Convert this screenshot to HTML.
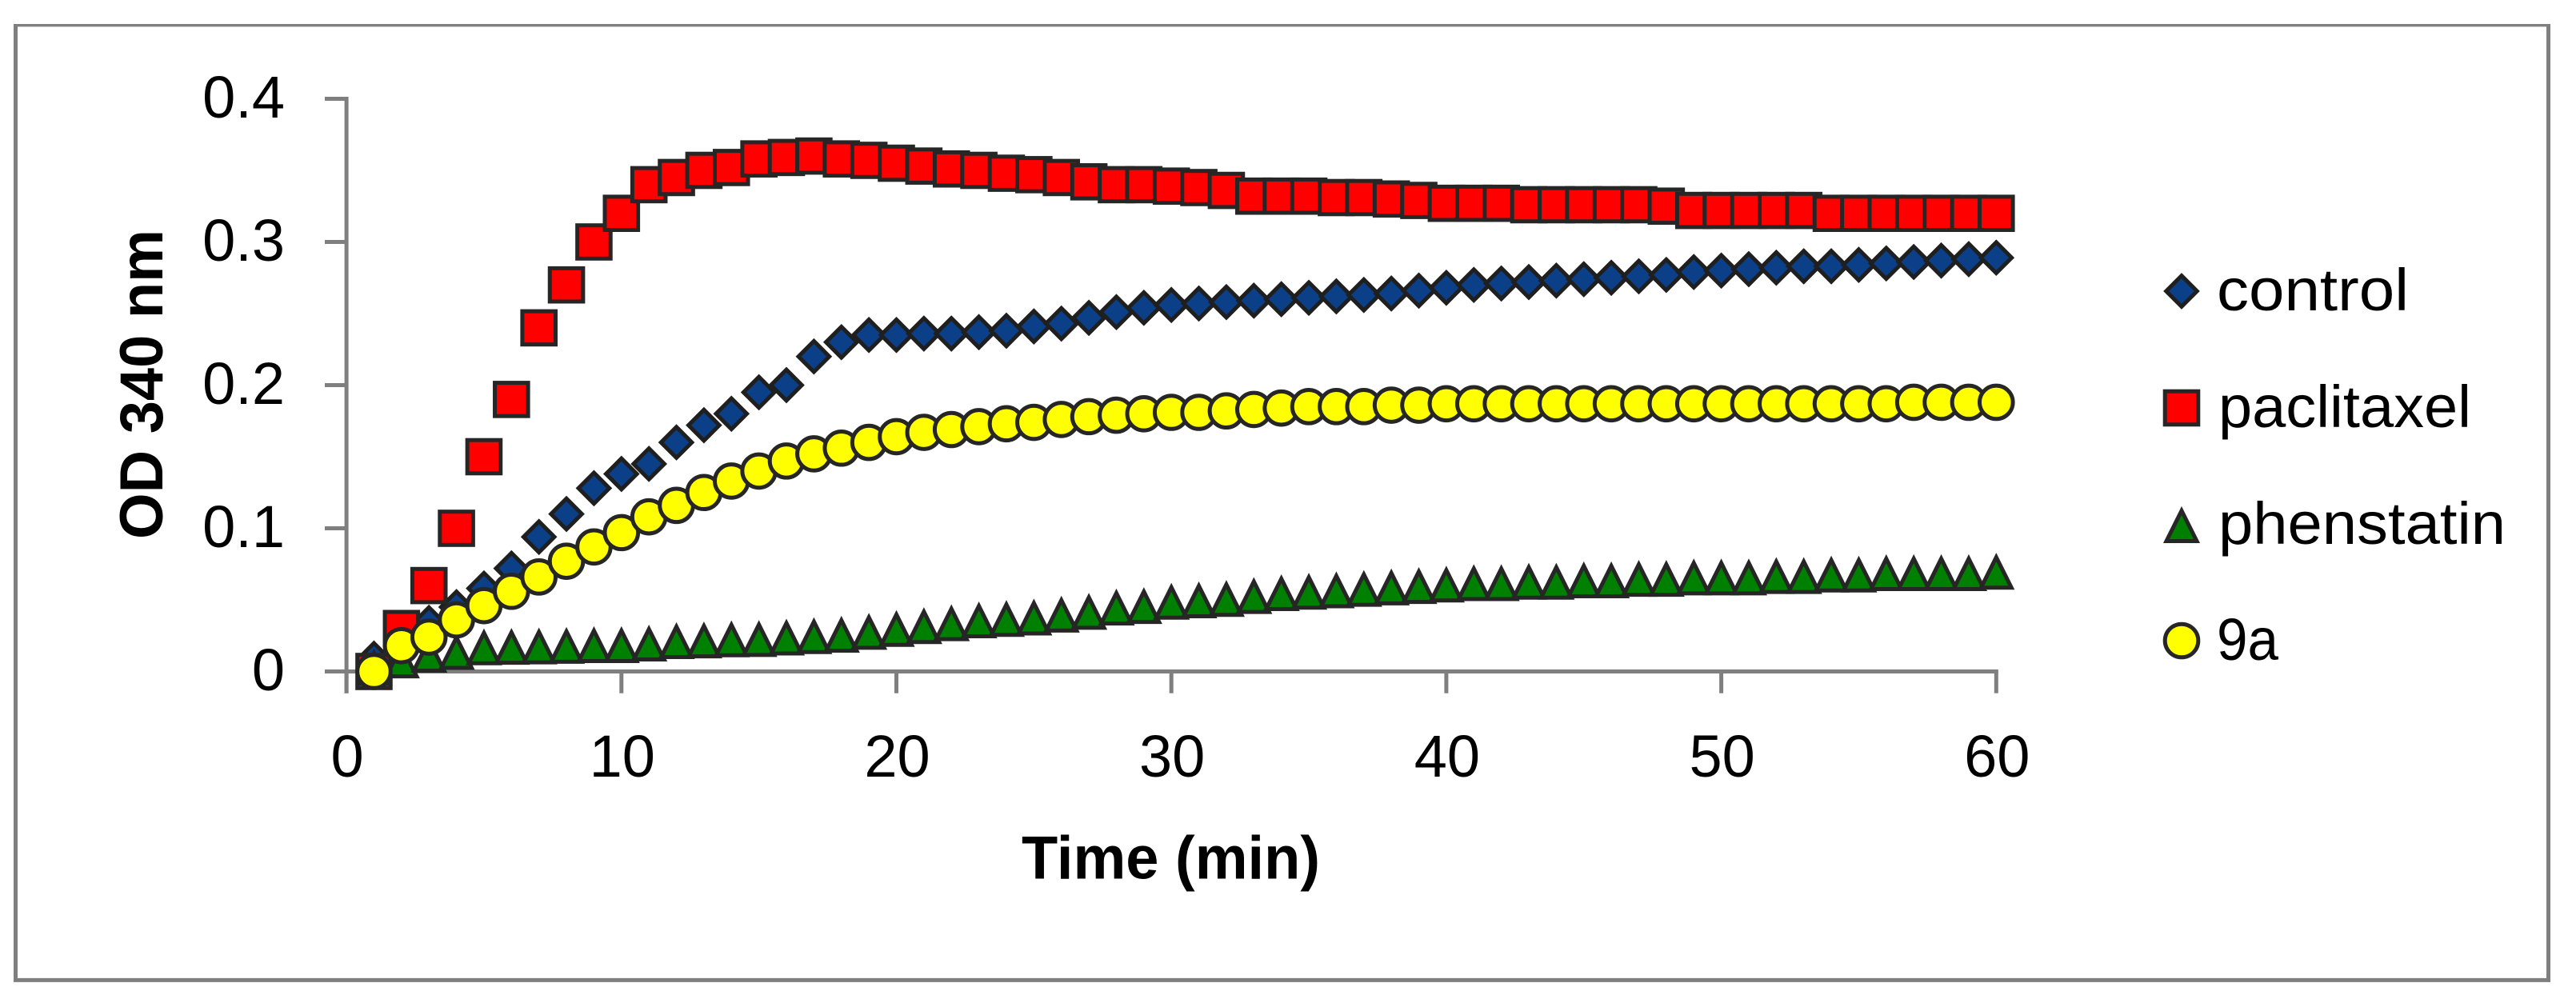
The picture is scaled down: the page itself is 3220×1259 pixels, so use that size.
<!DOCTYPE html>
<html lang="en">
<head>
<meta charset="utf-8">
<title>OD 340 nm over time</title>
<style>
html,body{margin:0;padding:0;background:#fff;width:3220px;height:1259px;overflow:hidden}
svg{display:block}
text{font-family:"Liberation Sans",sans-serif;fill:#000}
</style>
</head>
<body>
<svg id="chart" xmlns="http://www.w3.org/2000/svg" width="3220" height="1259" viewBox="0 0 3220 1259">
  <rect x="0" y="0" width="3220" height="1259" fill="#ffffff"/>
  <path d="M17 31.7H3188" stroke="#7f7f7f" stroke-width="3.4" fill="none"/>
  <path d="M19.5 30V1225.4H3185.5V30" stroke="#7f7f7f" stroke-width="5" fill="none"/>
  <g id="axes"></g>
  <g id="marks"></g>
  <text transform="translate(203,674) rotate(-90)" font-size="76" font-weight="bold" textLength="387" lengthAdjust="spacingAndGlyphs">OD 340 nm</text>
  <text x="1277" y="1098.7" font-size="76" font-weight="bold" textLength="373" lengthAdjust="spacingAndGlyphs">Time (min)</text>
  <g>
    <g>
      <path d="M2727 344.7L2746.3 364L2727 383.3L2707.7 364Z" fill="#0b3f88" stroke="#1f1f1f" stroke-width="5"/>
      <text x="2771" y="388" font-size="74" textLength="240" lengthAdjust="spacingAndGlyphs">control</text>
    </g>
    <g>
      <rect x="2706.2" y="489.2" width="41.6" height="41.6" fill="#ff0000" stroke="#262626" stroke-width="5"/>
      <text x="2773" y="534" font-size="74" textLength="316" lengthAdjust="spacingAndGlyphs">paclitaxel</text>
    </g>
    <g>
      <path d="M2727 638.5L2746 676.5H2708Z" fill="#008000" stroke="#262626" stroke-width="5"/>
      <text x="2773" y="680" font-size="74" textLength="359" lengthAdjust="spacingAndGlyphs">phenstatin</text>
    </g>
    <g>
      <circle cx="2727" cy="801" r="20.8" fill="#ffff00" stroke="#262626" stroke-width="5"/>
      <text x="2771" y="825" font-size="74" textLength="77" lengthAdjust="spacingAndGlyphs">9a</text>
    </g>
  </g>
</svg>
<script>
const minutes = [1,2,3,4,5,6,7,8,9,10,11,12,13,14,15,16,17,18,19,20,21,22,23,24,25,26,27,28,29,30,31,32,33,34,35,36,37,38,39,40,41,42,43,44,45,46,47,48,49,50,51,52,53,54,55,56,57,58,59,60];
const controlValues = [.009,.02,.034,.045,.058,.072,.094,.11,.128,.138,.145,.16,.172,.18,.195,.2,.22,.23,.235,.235,.236,.236,.237,.238,.241,.243,.247,.251,.254,.256,.257,.258,.259,.26,.261,.262,.263,.264,.266,.268,.27,.271,.272,.273,.274,.275,.276,.277,.279,.28,.281,.282,.283,.283,.284,.285,.286,.287,.288,.289];
const paclitaxelValues = [0,.03,.06,.1,.15,.19,.24,.27,.3,.32,.34,.345,.35,.352,.358,.359,.36,.358,.357,.355,.353,.351,.35,.348,.347,.345,.342,.34,.34,.339,.338,.336,.332,.332,.332,.331,.331,.33,.329,.327,.327,.327,.326,.326,.326,.326,.326,.325,.322,.322,.322,.322,.322,.32,.32,.32,.32,.32,.32,.32];
const phenstatinValues = [.003,.008,.012,.014,.0172,.0175,.0178,.0182,.0187,.0187,.0198,.0215,.022,.0228,.023,.024,.025,.026,.028,.03,.032,.034,.036,.037,.038,.04,.042,.045,.046,.049,.05,.051,.053,.055,.056,.057,.058,.059,.06,.061,.062,.062,.063,.063,.064,.064,.065,.065,.066,.066,.066,.067,.067,.068,.068,.069,.069,.069,.069,.07];
const compound9aValues = [0,.018,.024,.036,.046,.056,.066,.077,.087,.097,.108,.116,.125,.133,.14,.147,.152,.156,.16,.164,.167,.169,.171,.173,.174,.176,.178,.179,.18,.181,.181,.182,.183,.184,.185,.185,.185,.186,.186,.187,.187,.187,.187,.187,.187,.187,.187,.187,.187,.187,.187,.187,.187,.187,.187,.187,.188,.188,.188,.188];
const xTicks = [0,10,20,30,40,50,60];
const yTicks = [0,0.1,0.2,0.3,0.4];
const yTickLabels = ["0","0.1","0.2","0.3","0.4"];

const SVG_NS = "http://www.w3.org/2000/svg";
const xScale = v => 433.1 + v * 34.37;
const yScale = v => 839.5 - v * 1790;
const STROKE = "#262626";
const axes = document.getElementById("axes");
const marks = document.getElementById("marks");

function make(tag, attrs, parent) {
  const el = document.createElementNS(SVG_NS, tag);
  for (const k in attrs) el.setAttribute(k, attrs[k]);
  parent.appendChild(el);
  return el;
}

const yAxisLine = make("line", {x1: xScale(0), x2: xScale(0), y1: yScale(0.4) - 2.5, y2: 866.7, stroke: "#7f7f7f", "stroke-width": 5}, axes);


const xAxisLine = make("line", {x1: 406, x2: xScale(60) + 2.5, y1: yScale(0), y2: yScale(0), stroke: "#7f7f7f", "stroke-width": 5}, axes);



yTicks.forEach((t, i) => {
  const tick = make("line", {x1: 406, x2: xScale(0), y1: yScale(t), y2: yScale(t), stroke: "#7f7f7f", "stroke-width": 5}, axes);
  
  
  const label = make("text", {x: 356, y: yScale(t) + 23.5, "text-anchor": "end", "font-size": 74}, axes);
  
  
  label.textContent = yTickLabels[i];
});

xTicks.forEach(t => {
  const tick = make("line", {x1: xScale(t), x2: xScale(t), y1: yScale(0), y2: 866.7, stroke: "#7f7f7f", "stroke-width": 5}, axes);
  
  
  const label = make("text", {x: xScale(t) + 1, y: 971, "text-anchor": "middle", "font-size": 74}, axes);
  
  
  label.textContent = String(t);
});

function diamond(cx, cy, g) {
  const h = 19.3;
  return make("path", {d: `M${cx} ${cy - h}L${cx + h} ${cy}L${cx} ${cy + h}L${cx - h} ${cy}Z`, fill: "#0b3f88", stroke: "#1f1f1f", "stroke-width": 5}, g);
}
function square(cx, cy, g) {
  return make("rect", {x: cx - 20.8, y: cy - 20.8, width: 41.6, height: 41.6, fill: "#ff0000", stroke: STROKE, "stroke-width": 5}, g);
}
function triangle(cx, cy, g) {
  return make("path", {d: `M${cx} ${cy - 17.5}L${cx + 19} ${cy + 20.5}L${cx - 19} ${cy + 20.5}Z`, fill: "#008000", stroke: STROKE, "stroke-width": 5}, g);
}
function circle(cx, cy, g) {
  return make("circle", {cx: cx, cy: cy, r: 20.8, fill: "#ffff00", stroke: STROKE, "stroke-width": 5}, g);
}

const controlGroup = make("g", {}, marks);


controlValues.forEach((v, i) => {
  const m = diamond(xScale(minutes[i]), yScale(v), controlGroup);
  
  
});

const paclitaxelGroup = make("g", {}, marks);


paclitaxelValues.forEach((v, i) => {
  const m = square(xScale(minutes[i]), yScale(v), paclitaxelGroup);
  
  
});

const phenstatinGroup = make("g", {}, marks);


phenstatinValues.forEach((v, i) => {
  const m = triangle(xScale(minutes[i]), yScale(v), phenstatinGroup);
  
  
});

const compound9aGroup = make("g", {}, marks);


compound9aValues.forEach((v, i) => {
  const m = circle(xScale(minutes[i]), yScale(v), compound9aGroup);
  
  
});
</script>
</body>
</html>
